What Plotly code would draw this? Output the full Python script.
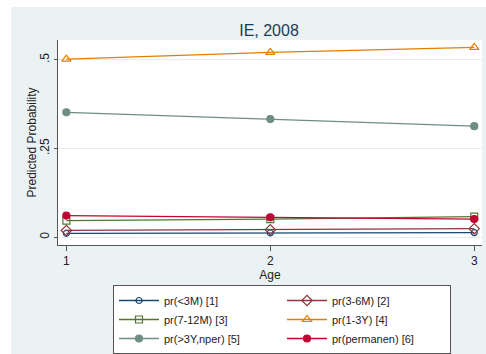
import plotly.graph_objects as go

# Predicted probabilities by age group, Ireland 2008
age = [1, 2, 3]
p_lt3m = [0.011, 0.012, 0.013]
p_3_6m = [0.019, 0.021, 0.024]
p_7_12m = [0.047, 0.051, 0.058]
p_1_3y = [0.502, 0.521, 0.535]
p_gt3y = [0.352, 0.333, 0.313]
p_perm = [0.061, 0.056, 0.051]

series = [
    ("pr(<3M) [1]", p_lt3m, "#1a476f", "circle-open", 6),
    ("pr(3-6M) [2]", p_3_6m, "#90353b", "diamond-open", 8),
    ("pr(7-12M) [3]", p_7_12m, "#55752f", "square-open", 7),
    ("pr(1-3Y) [4]", p_1_3y, "#e37e00", "triangle-up-open", 8),
    ("pr(>3Y,nper) [5]", p_gt3y, "#6e8e84", "circle", 7),
    ("pr(permanen) [6]", p_perm, "#c10534", "circle", 7),
]

yticks = [0, 0.25, 0.5]
yticklabels = ["0", ".25", ".5"]

fig = go.Figure()
for name, vals, color, sym, size in series:
    fig.add_trace(go.Scatter(
        x=age, y=vals, name=name, mode="lines+markers",
        line=dict(color=color, width=1.3),
        marker=dict(symbol=sym, size=size, color=color,
                    line=dict(color=color, width=1.2)),
    ))

W, H = 486, 354
L, R, T, B = 58, 4, 40, 109
PW, PH = W - L - R, H - T - B


def px_to_paper_x(px):
    return (px - L) / PW


def px_to_paper_y(py):
    return (T + PH - py) / PH


fig.update_layout(
    width=W, height=H,
    margin=dict(l=L, r=R, t=T, b=B, pad=0, autoexpand=False),
    paper_bgcolor="#eaf2f3",
    plot_bgcolor="white",
    font=dict(family="Liberation Sans, Arial, sans-serif", size=12, color="#222"),
    title=dict(text="IE, 2008", x=269 / W, xanchor="center",
               y=1 - 30 / H, yanchor="middle",
               font=dict(size=16, color="#1c3a57")),
    showlegend=True,
    legend=dict(
        orientation="h", xref="container", yref="container",
        x=113 / W, y=1 - 285 / H,
        xanchor="left", yanchor="top",
        bgcolor="white", bordercolor="#555", borderwidth=1,
        entrywidth=113, itemwidth=40,
        font=dict(size=11, color="#222"),
        tracegroupgap=0,
    ),
    xaxis=dict(
        range=[0.959, 3.038], tickvals=age, ticktext=["1", "2", "3"],
        ticks="outside", ticklen=5, tickcolor="#555",
        showline=True, linecolor="#555", linewidth=1,
        showgrid=False, zeroline=False,
        tickfont=dict(size=12, color="#222"),
        title=dict(text="Age", standoff=2, font=dict(size=12, color="#222")),
    ),
    yaxis=dict(
        range=[-0.022, 0.556], tickvals=yticks, ticktext=yticklabels,
        tickangle=-90,
        ticks="outside", ticklen=3, tickcolor="#555",
        showline=True, linecolor="#555", linewidth=1,
        showgrid=True, gridcolor="#e6ecec", gridwidth=1, zeroline=False,
        tickfont=dict(size=12, color="#222"),
    ),
)

fig.add_annotation(
    text="Predicted Probability", textangle=-90,
    xref="paper", yref="paper", x=px_to_paper_x(31), y=0.5,
    xanchor="center", yanchor="middle", showarrow=False,
    font=dict(size=12, color="#222"),
)

# white page margin along the top and left of the graph region
fig.add_shape(type="rect", xref="paper", yref="paper",
              x0=px_to_paper_x(-5), x1=px_to_paper_x(W + 5),
              y0=px_to_paper_y(7), y1=px_to_paper_y(-5),
              fillcolor="white", line_width=0, layer="below")
fig.add_shape(type="rect", xref="paper", yref="paper",
              x0=px_to_paper_x(-5), x1=px_to_paper_x(11),
              y0=px_to_paper_y(H + 5), y1=px_to_paper_y(-5),
              fillcolor="white", line_width=0, layer="below")

fig.write_html("out.html")
